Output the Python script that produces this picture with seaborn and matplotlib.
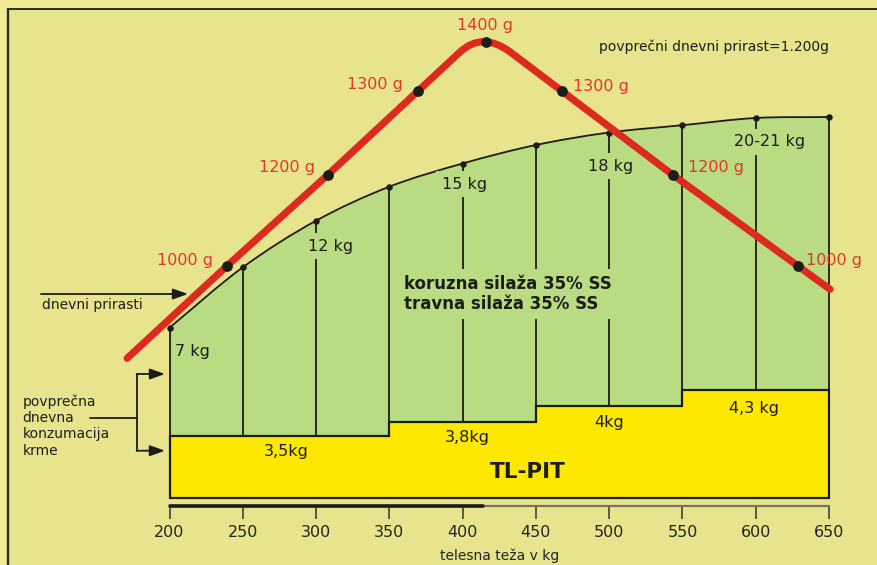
import numpy as np
import matplotlib
matplotlib.use("Agg")
import matplotlib.pyplot as plt
from matplotlib.path import Path
from matplotlib.patches import PathPatch, Rectangle
from matplotlib.lines import Line2D
import seaborn as sns

# ---------------- data ----------------
body_weight = [200, 250, 300, 350, 400, 450, 500, 550, 600, 650]
intake_level = [178.0, 238.4, 285.0, 319.0, 342.2, 360.7, 373.2, 380.5, 387.7, 388.7]
intake_label_weight = [200, 300, 400, 500, 600]
intake_labels = ["7 kg", "12 kg", "15 kg", "18 kg", "20-21 kg"]

tlpit_edges = [200, 350, 450, 550, 650]
tlpit_level = [69.5, 84.0, 99.8, 116.2]
tlpit_labels = ["3,5kg", "3,8kg", "4kg", "4,3 kg"]
tlpit_base = 8.1

gain_weight = [171.1, 239.4, 307.9, 369.8, 415.8, 467.7, 543.5, 628.8, 650.7]
gain_level = [147.4, 240.0, 330.7, 415.0, 464.0, 414.7, 330.7, 239.7, 216.4]
gain_labels = ["", "1000 g", "1200 g", "1300 g", "1400 g", "1300 g", "1200 g", "1000 g", ""]

x_ticks = [200, 250, 300, 350, 400, 450, 500, 550, 600, 650]

# ---------------- style ----------------
OUTER = "#f0ea97"
INNER = "#e8e48e"
GREEN = "#b9dc82"
YELLOW = "#ffe800"
RED = "#dc2a1f"
RED_TXT = "#e0382a"
DARK = "#1c1c1a"

sns.set_theme(style="white")
plt.rcParams["font.family"] = ["DejaVu Sans"]

W, H = 877, 565
fig = plt.figure(figsize=(W / 100, H / 100), dpi=100, facecolor=OUTER)


def fx(px):
    return px / W


def fy(py):
    return 1 - py / H


# inner panel and its frame
fig.add_artist(Rectangle((fx(7.5), 0), 1 - fx(7.5), fy(9), transform=fig.transFigure,
                         facecolor=INNER, edgecolor="none", zorder=-10))
fig.add_artist(Line2D([fx(7.5), fx(7.5)], [0, fy(9)], transform=fig.transFigure,
                      color="#2a2a20", lw=1.7))
fig.add_artist(Line2D([fx(7.5), 1], [fy(9), fy(9)], transform=fig.transFigure,
                      color="#2a2a20", lw=1.4))

ax = fig.add_axes([fx(169.5), fy(505.7), (829 - 169.5) / W, (505.7 - 9) / H])
ax.patch.set_visible(False)
ax.set_xlim(200, 650)
ax.set_ylim(0, 496.7)

# smooth curve through the intake points (Catmull-Rom as cubic Bezier segments)
P = np.column_stack([body_weight, intake_level]).astype(float)
Pext = np.vstack([2 * P[0] - P[1], P, 2 * P[-1] - P[-2]])
curve_verts = [tuple(P[0])]
curve_codes = [Path.MOVETO]
for i in range(len(P) - 1):
    a, b, c, d = Pext[i], Pext[i + 1], Pext[i + 2], Pext[i + 3]
    c1 = b + (c - a) / 6
    c2 = c - (d - b) / 6
    curve_verts += [tuple(c1), tuple(c2), tuple(c)]
    curve_codes += [Path.CURVE4] * 3

# green area (total intake)
fill_verts = curve_verts + [(body_weight[-1], tlpit_base), (body_weight[0], tlpit_base),
                            (body_weight[0], tlpit_base)]
fill_codes = curve_codes + [Path.LINETO, Path.LINETO, Path.CLOSEPOLY]
ax.add_patch(PathPatch(Path(fill_verts, fill_codes), facecolor=GREEN, edgecolor="none",
                       zorder=1, clip_on=False))

# yellow TL-PIT step area
xs = np.repeat(tlpit_edges, 2)
ys = np.concatenate([[tlpit_base], np.repeat(tlpit_level, 2), [tlpit_base]])
ax.fill(xs, ys, facecolor=YELLOW, edgecolor=DARK, lw=1.6, zorder=2, clip_on=False)

# vertical separators
idx = np.clip(np.searchsorted(tlpit_edges, body_weight, side="left") - 1, 0, len(tlpit_level) - 1)
bottoms = np.asarray(tlpit_level)[idx]
ax.vlines(body_weight, bottoms, intake_level, color=DARK, lw=1.3, zorder=3, clip_on=False)

# intake curve + dots
ax.add_patch(PathPatch(Path(curve_verts, curve_codes), fill=False, edgecolor=DARK, lw=1.3,
                       zorder=4, clip_on=False))
sns.scatterplot(x=body_weight, y=intake_level, ax=ax, s=22, color=DARK, linewidth=0,
                zorder=5, clip_on=False)

# intake labels
px2pt = 0.72
intake_offsets = [(5.5, 24, "left"), (14.5, 25.3, "center"), (2, 20.5, "center"),
                  (1.3, 33.5, "center"), (14, 23.7, "center")]
for w, lab, (dx, dy, ha) in zip(intake_label_weight, intake_labels, intake_offsets):
    lvl = np.interp(w, body_weight, intake_level)
    bb = None if ha == "left" else dict(boxstyle="square,pad=0.35", fc=GREEN, ec="none")
    ax.annotate(lab, xy=(w, lvl), xytext=(dx * px2pt, -dy * px2pt), textcoords="offset points",
                ha=ha, va="center", fontsize=11.5, color=DARK, bbox=bb, zorder=4.5)

# TL-PIT labels
tl_offsets = [(7, 15), (5, 15.6), (0, 16.8), (-1.5, 18.8)]
for i, (lab, (dx, dy)) in enumerate(zip(tlpit_labels, tl_offsets)):
    mid = (tlpit_edges[i] + tlpit_edges[i + 1]) / 2
    ax.annotate(lab, xy=(mid, tlpit_level[i]), xytext=(dx * px2pt, -dy * px2pt),
                textcoords="offset points", ha="center", va="center", fontsize=11.5,
                color=DARK, zorder=4)

ax.text(fx(528), fy(472.3), "TL-PIT", transform=fig.transFigure, ha="center", va="center",
        fontsize=15.5, fontweight="bold", color=DARK, zorder=4)
ax.text(fx(404), fy(294), "koruzna silaža 35% SS\ntravna silaža 35% SS", transform=fig.transFigure,
        ha="left", va="center", fontsize=12, fontweight="bold", color=DARK, zorder=4.5,
        bbox=dict(boxstyle="square,pad=0.35", fc=GREEN, ec="none"))

# daily gain line with rounded peak
gx = np.asarray(gain_weight, float)
gy = np.asarray(gain_level, float)
k = int(np.argmax(gy))
s1 = (gy[k - 1] - gy[k - 2]) / (gx[k - 1] - gx[k - 2])
s2 = (gy[k + 2] - gy[k + 1]) / (gx[k + 2] - gx[k + 1])
cx = (gy[k + 1] - gy[k - 1] + s1 * gx[k - 1] - s2 * gx[k + 1]) / (s1 - s2)
cy = gy[k - 1] + s1 * (cx - gx[k - 1])
f = 4 * (cy - gy[k]) / ((cy - gy[k - 1]) + (cy - gy[k + 1]))
p0 = (cx + f * (gx[k - 1] - cx), cy + f * (gy[k - 1] - cy))
p2 = (cx + f * (gx[k + 1] - cx), cy + f * (gy[k + 1] - cy))
verts = [(gx[i], gy[i]) for i in range(k)] + [p0, (cx, cy), p2] + \
        [(gx[i], gy[i]) for i in range(k + 1, len(gx))]
codes = [Path.MOVETO] + [Path.LINETO] * (k - 1) + [Path.LINETO, Path.CURVE3, Path.CURVE3] + \
        [Path.LINETO] * (len(gx) - k - 1)
ax.add_patch(PathPatch(Path(verts, codes), fill=False, edgecolor=RED, lw=5.2,
                       capstyle="round", joinstyle="round", zorder=6, clip_on=False))

marked = [i for i, l in enumerate(gain_labels) if l]
sns.scatterplot(x=gx[marked], y=gy[marked], ax=ax, s=60, color=DARK, linewidth=0,
                zorder=7, clip_on=False)
gain_offsets = {1: (-42.7, 5), 2: (-41, 7.7), 3: (-43.7, 5.7), 4: (-1, 16),
                5: (39, 5), 6: (43, 7.3), 7: (36, 5.3)}
for i in marked:
    dx, dy = gain_offsets[i]
    ax.annotate(gain_labels[i], xy=(gx[i], gy[i]), xytext=(dx * px2pt, dy * px2pt),
                textcoords="offset points", ha="center", va="center", fontsize=11.5,
                color=RED_TXT, zorder=8)

# side annotations
ax.text(fx(714), fy(46.7), "povprečni dnevni prirast=1.200g", transform=fig.transFigure,
        ha="center", va="center", fontsize=10, color=DARK)
ax.text(fx(92.5), fy(305), "dnevni prirasti", transform=fig.transFigure,
        ha="center", va="center", fontsize=10, color=DARK)
ax.text(fx(22.7), fy(426), "povprečna\ndnevna\nkonzumacija\nkrme", transform=fig.transFigure,
        ha="left", va="center", fontsize=10, color=DARK, linespacing=1.2)

arrow = dict(arrowstyle="-|>,head_length=0.7,head_width=0.25", color=DARK, lw=1.3,
             mutation_scale=13, shrinkA=0, shrinkB=0)
for (x0, y0, x1, y1) in [(41, 294, 188, 294), (136.7, 374, 165, 374), (136.7, 450.7, 165, 450.7)]:
    ax.annotate("", xy=(fx(x1), fy(y1)), xytext=(fx(x0), fy(y0)), xycoords="figure fraction",
                textcoords="figure fraction", arrowprops=arrow)
fig.add_artist(Line2D([fx(90), fx(136.7)], [fy(418.3), fy(418.3)], transform=fig.transFigure,
                      color=DARK, lw=1.3))
fig.add_artist(Line2D([fx(136.7), fx(136.7)], [fy(374), fy(450.7)], transform=fig.transFigure,
                      color=DARK, lw=1.3))

# x axis
for s in ["left", "right", "top"]:
    ax.spines[s].set_visible(False)
ax.spines["bottom"].set_color("#77755c")
ax.spines["bottom"].set_linewidth(1.6)
ax.axhline(0, xmin=0, xmax=0.475, color=DARK, lw=2.6, zorder=3, clip_on=False)
ax.set_xticks(x_ticks)
ax.set_xticklabels([str(t) for t in x_ticks])
ax.set_yticks([])
ax.tick_params(axis="x", direction="out", length=9.4, width=1.1, color="#333333",
               pad=4.5, labelsize=11.5, labelcolor="#222222", bottom=True)
ax.set_xlabel("telesna teža v kg", fontsize=10, color="#222222", labelpad=6)
ax.grid(False)

fig.savefig("out.png", dpi=100, facecolor=OUTER)
